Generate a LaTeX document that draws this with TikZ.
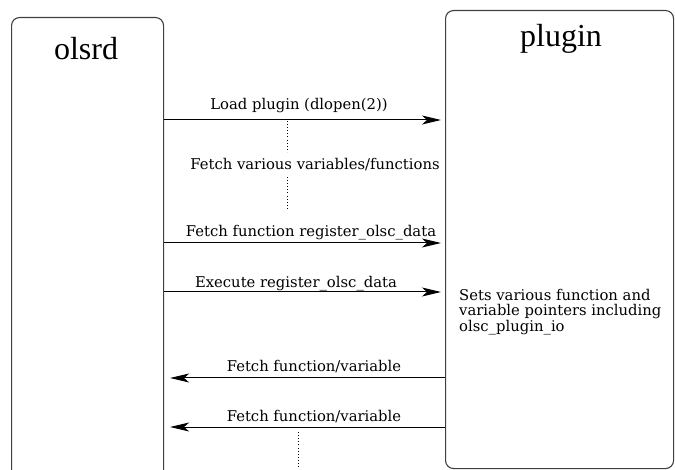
\documentclass[tikz,border=0pt]{standalone}
\usepackage{fontspec}
\setmainfont{Liberation Serif}
\newfontfamily\msgfont{DejaVu Serif}
\usetikzlibrary{arrows.meta}

\tikzset{
  lifebox/.style={draw=black!75, line width=1.1pt, rounded corners=8pt,
    inner sep=0pt, anchor=north west},
  boxtitle/.style={font=\fontsize{32}{36}\selectfont, inner sep=0pt, anchor=base},
  msg/.style={line width=1pt, -{Stealth[length=19pt, width=9pt, inset=5pt]}},
  msglabel/.style={font=\msgfont\fontsize{14.8}{15.5}\selectfont, inner sep=0pt, anchor=base},
  ellipsis/.style={line width=0.9pt, dash pattern=on 0.9pt off 2.2pt},
}

\begin{document}
\begin{tikzpicture}[x=1pt, y=-1pt]
  \useasboundingbox[fill=white] (0, 0) rectangle (675, 470);

  % the two sides
  \node[lifebox, minimum width=152pt, minimum height=470pt] (olsrd) at (11, 17) {};
  \node[lifebox, minimum width=228pt, minimum height=458pt] (plugin) at (445, 10) {};
  \node[boxtitle] (olsrdname) at (86, 60) {olsrd};
  \node[boxtitle] (pluginname) at (561, 46.7) {plugin};

  % calls from olsrd into the plugin
  \foreach \n/\y/\lx/\ly/\txt in {
      load/120/299/109.3/{Load plugin (dlopen(2))},
      fetch/243/311/236.7/{Fetch function register\_olsc\_data},
      exec/292/296/287.7/{Execute register\_olsc\_data}} {
    \coordinate (\n a) at (olsrd.east |- 0, \y);
    \coordinate (\n b) at (plugin.west |- 0, \y);
    \draw[msg, shorten >=4pt] (\n a) -- (\n b);
    \node[msglabel] (\n label) at (\lx, \ly) {\txt};
  }

  % lookups coming back from the plugin
  \foreach \n/\y/\ly in {lookupi/378/371.7, lookupii/427/421} {
    \coordinate (\n a) at (plugin.west |- 0, \y);
    \coordinate (\n b) at (olsrd.east |- 0, \y);
    \draw[msg, shorten >=6pt] (\n a) -- (\n b);
    \node[msglabel] (\n label) at (314, \ly) {Fetch function/variable};
  }

  % more fetches in between
  \node[msglabel] (various) at (315, 170) {Fetch various variables/functions};
  \draw[ellipsis] (287, 121) -- (287, 152);
  \draw[ellipsis] (287, 177) -- (287, 210);
  \draw[ellipsis] (298, 432) -- (298, 468);

  \node[msglabel, anchor=north west, align=left] (sets) at (459, 289)
    {Sets various function and\\variable pointers including\\olsc\_plugin\_io};
\end{tikzpicture}
\end{document}
